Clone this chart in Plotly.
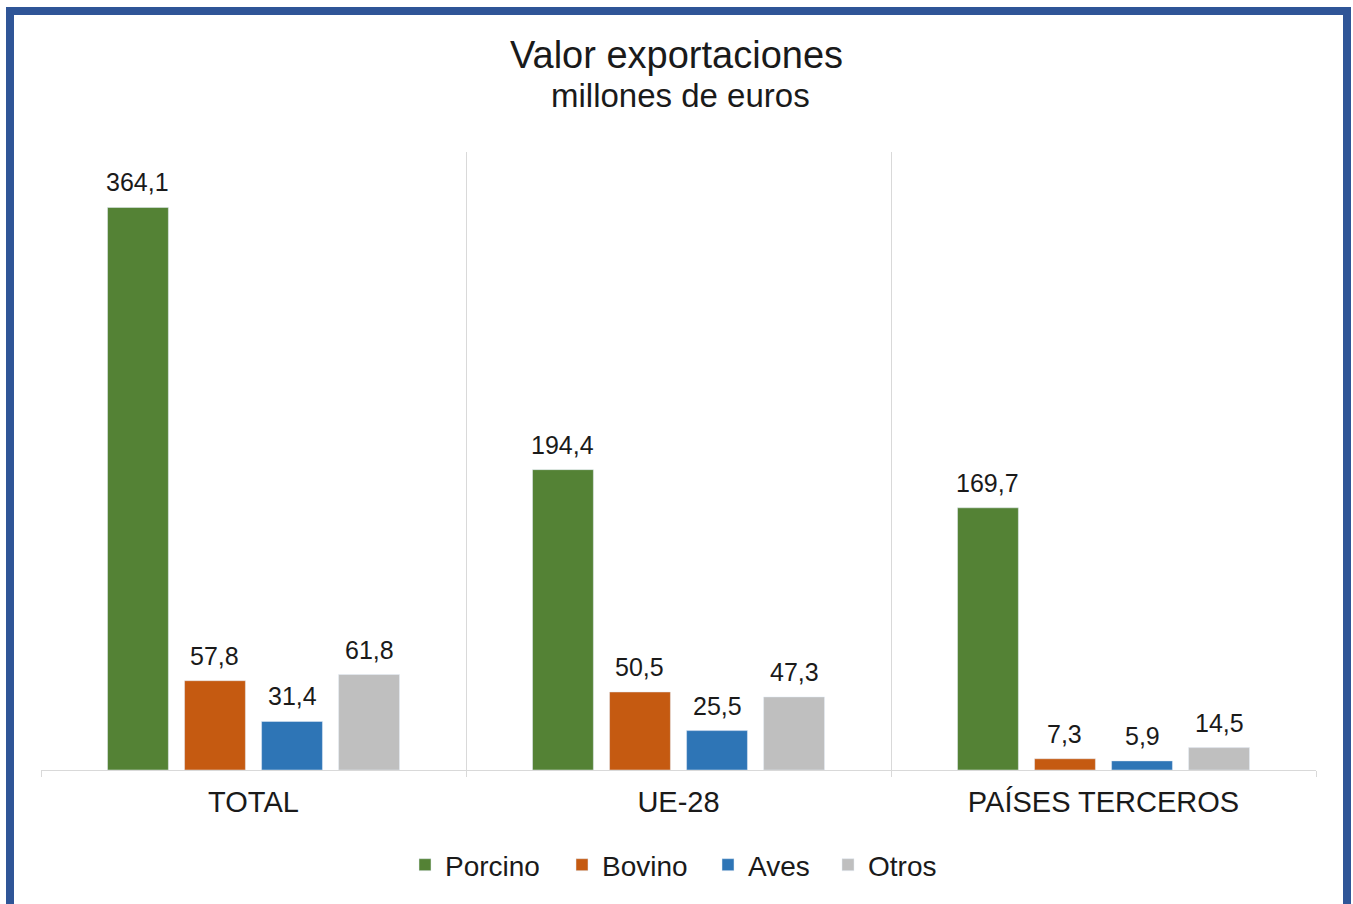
import plotly.graph_objects as go

categories = ["TOTAL", "UE-28", "PAÍSES TERCEROS"]
series_names = ["Porcino", "Bovino", "Aves", "Otros"]
porcino = [364.1, 194.4, 169.7]
bovino = [57.8, 50.5, 7.3]
aves = [31.4, 25.5, 5.9]
otros = [61.8, 47.3, 14.5]
colors = ["#548235", "#C55A11", "#2E75B6", "#BFBFBF"]

W, H = 1353, 904
L, R, T, B = 41, 1316, 152, 770  # plot area in px
BARGAP = 0.275
BARGROUPGAP = 0.21
TXT = "#1a1a1a"
FONT = "Liberation Sans, Arial"

def px_x(p):
    return (p - L) / (R - L)

def px_y(p):
    return (B - p) / (B - T)

legend_text_x = [445, 602, 748, 868]

fig = go.Figure()
all_vals = [porcino, bovino, aves, otros]
n = len(series_names)
slot = (1 - BARGAP) / n
for k, (name, vals, col) in enumerate(zip(series_names, all_vals, colors)):
    lg = "legend" if k == 0 else f"legend{k + 1}"
    fig.add_trace(go.Bar(
        x=categories, y=vals, name=name, marker_color=col, legend=lg,
        hoverinfo="x+y+name",
    ))
    off = (k - (n - 1) / 2) * slot
    for i, v in enumerate(vals):
        fig.add_annotation(
            x=i + off, y=v, xref="x", yref="y",
            text=f"{v:.1f}".replace(".", ","),
            showarrow=False, yanchor="bottom", yshift=9,
            font=dict(size=25, color=TXT, family=FONT),
        )

legend_common = dict(orientation="h", yanchor="middle", xanchor="left",
                     font=dict(size=28, color=TXT, family=FONT),
                     bgcolor="rgba(0,0,0,0)", itemwidth=30)
layout_legends = {}
for k in range(n):
    key = "legend" if k == 0 else f"legend{k + 1}"
    layout_legends[key] = dict(legend_common, x=px_x(legend_text_x[k] - 40), y=px_y(865))

fig.add_shape(type="rect", xref="paper", yref="paper",
              x0=px_x(10), x1=px_x(1347), y0=px_y(915), y1=px_y(11),
              line=dict(color="#2F5597", width=8), fillcolor="rgba(0,0,0,0)", layer="above")

fig.add_annotation(text="Valor exportaciones", xref="paper", yref="paper",
                   x=px_x(676), y=px_y(55), showarrow=False, yanchor="middle",
                   font=dict(size=38, color=TXT, family=FONT))
fig.add_annotation(text="millones de euros", xref="paper", yref="paper",
                   x=px_x(680), y=px_y(95), showarrow=False, yanchor="middle",
                   font=dict(size=33, color=TXT, family=FONT))

fig.update_layout(
    width=W, height=H,
    margin=dict(l=L, r=W - R, t=T, b=H - B),
    paper_bgcolor="white", plot_bgcolor="white",
    font=dict(family=FONT, color=TXT),
    barmode="group", bargap=BARGAP, bargroupgap=BARGROUPGAP,
    showlegend=True,
    xaxis=dict(tickson="boundaries", showgrid=True, gridcolor="#d9d9d9", gridwidth=1,
               showline=True, linecolor="#d9d9d9", linewidth=1,
               ticks="outside", ticklen=6, tickcolor="#d9d9d9",
               tickfont=dict(size=29, color=TXT, family=FONT), ticklabelstandoff=6),
    yaxis=dict(range=[0, 400], visible=False, showgrid=False, zeroline=False),
    **layout_legends,
)

fig.write_html("out.html", config={"displayModeBar": False},
               post_script="document.body.style.margin='0';document.body.style.overflow='hidden';")
